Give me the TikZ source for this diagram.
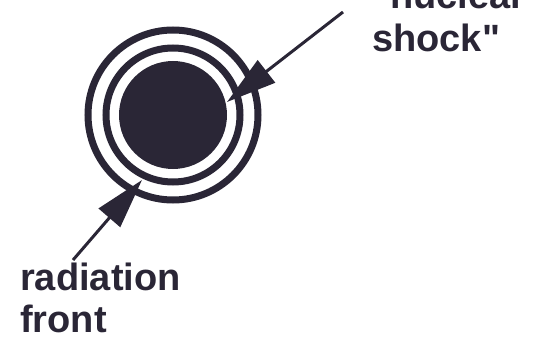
\documentclass[tikz,border=0pt]{standalone}
\usepackage{fontspec}
\newfontfamily\labfont{Liberation Sans}
\usetikzlibrary{arrows.meta}
\definecolor{ink}{RGB}{42,38,54}
\begin{document}
\begin{tikzpicture}[x=1pt,y=-1pt,
  ring/.style={draw=ink,line width=7pt},
  pointer/.style={draw=ink,line width=3pt,-{Triangle[length=50pt,width=28pt]}},
  lbl/.style={font=\labfont\fontsize{38}{43}\selectfont\bfseries,text=ink,align=left,inner sep=0pt}]
\useasboundingbox (0,0) rectangle (533,337);
\clip (0,0) rectangle (533,337);
\coordinate (c) at (173,115);
\draw[ring] (c) circle[radius=85];
\draw[ring] (c) circle[radius=67];
\fill[ink] (c) circle[radius=54];
\node[lbl,anchor=base west] (nl1) at (372,9) {"nuclear};
\node[lbl,anchor=base west] (nl2) at (372,52) {shock"};
\node[lbl,anchor=base west] (rl1) at (20,290) {radiation};
\node[lbl,anchor=base west] (rl2) at (20,332) {front};
\coordinate (s1) at (343,12);
\coordinate (t1) at (227,102);
\coordinate (s2) at (73,260);
\coordinate (t2) at (142,180);
\draw[pointer] (s1) -- (t1);
\draw[pointer] (s2) -- (t2);
\end{tikzpicture}
\end{document}
